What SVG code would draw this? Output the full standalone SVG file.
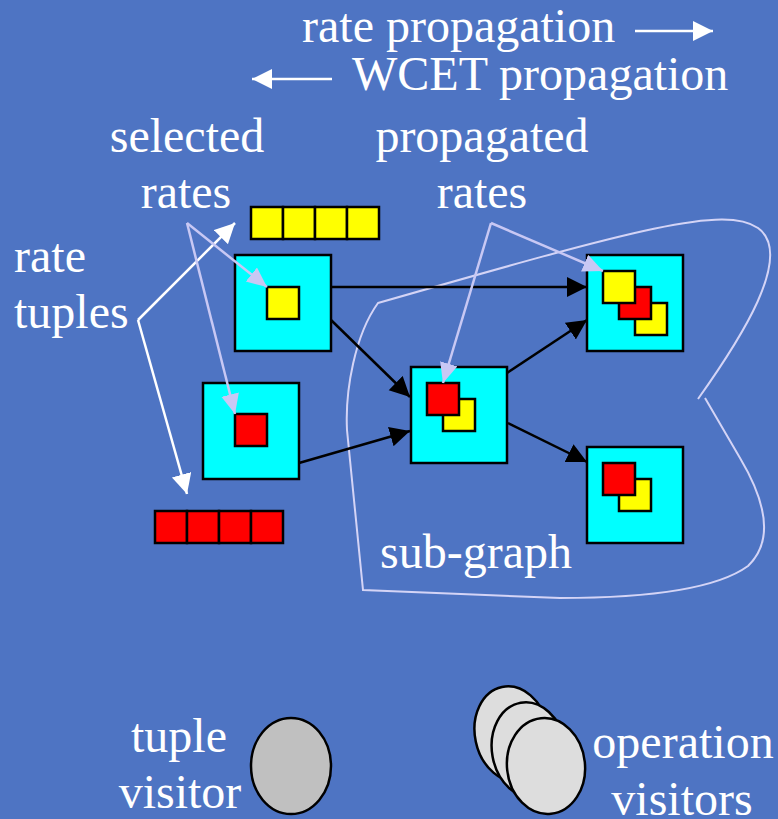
<svg xmlns="http://www.w3.org/2000/svg" width="778" height="819" viewBox="0 0 778 819">
<defs>
<style>
text{font-family:"Liberation Serif","Times New Roman",serif;font-size:48px;fill:#fff}
.mid{text-anchor:middle}
.box{fill:#00ffff;stroke:#000;stroke-width:2.5}
.r{fill:#ff0000;stroke:#000;stroke-width:2.5}
.y{fill:#ffff00;stroke:#000;stroke-width:2.5}
.edge{stroke:#000;stroke-width:2.5;fill:none;marker-end:url(#ah)}
.wl{stroke:#fff;stroke-width:2.5;fill:none;marker-end:url(#aw)}
.ll{stroke:#c8c8f4;stroke-width:2.5;fill:none;marker-end:url(#al)}
.sg{stroke:#d4d4f6;stroke-width:2;fill:none}
.ell{stroke:#000;stroke-width:2.5}
</style>
<marker id="ah" markerUnits="userSpaceOnUse" markerWidth="22" markerHeight="22" refX="20" refY="10" orient="auto"><path d="M0,0 L20,10 L0,20 z" fill="#000"/></marker>
<marker id="aw" markerUnits="userSpaceOnUse" markerWidth="22" markerHeight="22" refX="20" refY="10" orient="auto"><path d="M0,0 L20,10 L0,20 z" fill="#fff"/></marker>
<marker id="al" markerUnits="userSpaceOnUse" markerWidth="22" markerHeight="22" refX="20" refY="9" orient="auto"><path d="M0,0 L20,9 L0,18 z" fill="#c8c8f4"/></marker>
</defs>
<rect width="778" height="819" fill="#4e74c3"/>

<g id="legend">
<text x="302" y="42">rate propagation</text>
<line x1="635" y1="31" x2="713" y2="31" stroke="#fff" stroke-width="2.5" marker-end="url(#aw)"/>
<text x="352" y="90">WCET propagation</text>
<line x1="332" y1="79" x2="252" y2="79" stroke="#fff" stroke-width="2.5" marker-end="url(#aw)"/>
</g>

<g id="subgraph">
<path class="sg" d="M698,399 C740,340 795,255 758,228 C725,205 640,228 378,303 C355,335 345,390 347,430 L363,590 L560,598 C640,598 715,590 748,566 C775,540 765,500 740,458 L705,398"/>
<text x="380" y="568">sub-graph</text>
</g>

<g id="labels">
<text class="mid" x="187" y="152">selected</text>
<text class="mid" x="186" y="208">rates</text>
<text class="mid" x="482" y="152">propagated</text>
<text class="mid" x="482" y="208">rates</text>
<text x="14" y="272">rate</text>
<text x="14" y="328">tuples</text>
</g>

<g id="tuple-yellow">
<rect class="y" x="251" y="207" width="32" height="32"/>
<rect class="y" x="283" y="207" width="32" height="32"/>
<rect class="y" x="315" y="207" width="32" height="32"/>
<rect class="y" x="347" y="207" width="32" height="32"/>
</g>
<g id="tuple-red">
<rect class="r" x="155" y="511" width="32" height="32"/>
<rect class="r" x="187" y="511" width="32" height="32"/>
<rect class="r" x="219" y="511" width="32" height="32"/>
<rect class="r" x="251" y="511" width="32" height="32"/>
</g>

<g id="nodeA"><rect class="box" x="235" y="255" width="96" height="96"/><rect class="y" x="267" y="287" width="32" height="32"/></g>
<g id="nodeB"><rect class="box" x="203" y="383" width="96" height="96"/><rect class="r" x="235" y="414" width="32" height="32"/></g>
<g id="nodeC"><rect class="box" x="411" y="367" width="96" height="96"/><rect class="y" x="443" y="399" width="32" height="32"/><rect class="r" x="427" y="383" width="32" height="32"/></g>
<g id="nodeD"><rect class="box" x="587" y="255" width="96" height="96"/><rect class="y" x="635" y="303" width="32" height="32"/><rect class="r" x="619" y="287" width="32" height="32"/><rect class="y" x="603" y="271" width="32" height="32"/></g>
<g id="nodeE"><rect class="box" x="587" y="447" width="96" height="96"/><rect class="y" x="619" y="479" width="32" height="32"/><rect class="r" x="603" y="463" width="32" height="32"/></g>

<g id="connectors">
<line class="edge" x1="331" y1="287" x2="587" y2="287"/>
<line class="edge" x1="331" y1="320" x2="410" y2="397"/>
<line class="edge" x1="299" y1="463" x2="410" y2="431"/>
<line class="edge" x1="507" y1="373" x2="587" y2="320"/>
<line class="edge" x1="508" y1="423" x2="587" y2="462"/>
<line class="wl" x1="138" y1="320" x2="235" y2="223"/>
<line class="wl" x1="138" y1="320" x2="187" y2="494"/>
<line class="ll" x1="187" y1="223" x2="267" y2="287"/>
<line class="ll" x1="187" y1="223" x2="235" y2="414"/>
<line class="ll" x1="491" y1="223" x2="603" y2="271"/>
<line class="ll" x1="491" y1="223" x2="443" y2="383"/>
</g>

<g id="tuple-visitor">
<ellipse class="ell" cx="291" cy="766" rx="40" ry="48" fill="#c0c0c0"/>
<text class="mid" x="179" y="752">tuple</text>
<text class="mid" x="180" y="808">visitor</text>
</g>
<g id="operation-visitors">
<ellipse class="ell" cx="512" cy="734" rx="37" ry="48" fill="#dddddd" transform="rotate(-12 512 734)"/>
<ellipse class="ell" cx="529" cy="750" rx="37" ry="48" fill="#dddddd" transform="rotate(-10 529 750)"/>
<ellipse class="ell" cx="546" cy="766" rx="39" ry="48" fill="#dddddd" transform="rotate(-6 546 766)"/>
<text class="mid" x="683" y="758">operation</text>
<text class="mid" x="682" y="815">visitors</text>
</g>
</svg>
